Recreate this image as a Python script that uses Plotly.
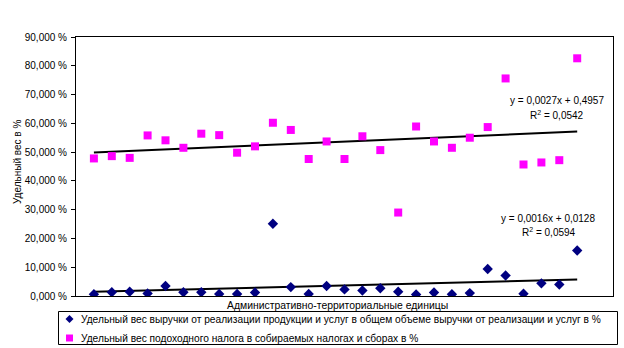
import plotly.graph_objects as go

# --- data ---
units = list(range(1, 29))  # administrative-territorial units 1..28

revenue_share = [0.6, 1.3, 1.5, 0.9, 3.5, 1.3, 1.3, 0.7, 0.7, 1.2,
                 25.1, 3.1, 0.7, 3.5, 2.3, 1.9, 2.7, 1.5, 0.5, 1.2,
                 0.6, 1.0, 9.4, 7.1, 0.8, 4.4, 4.0, 15.8]

income_tax_share = [47.8, 48.6, 48.0, 55.8, 54.1, 51.5, 56.4, 55.9, 49.8, 52.0,
                    60.2, 57.7, 47.6, 53.7, 47.6, 55.5, 50.7, 29.0, 58.9, 53.7,
                    51.5, 55.0, 58.7, 75.6, 45.7, 46.4, 47.2, 82.6]

# trend line coefficients shown on the chart (fractions)
rev_slope, rev_intercept, rev_r2 = 0.0016, 0.0128, 0.0594
tax_slope, tax_intercept, tax_r2 = 0.0027, 0.4957, 0.0542

y_tickvals = [0, 10, 20, 30, 40, 50, 60, 70, 80, 90]
y_ticktext = ["0,000 %", "10,000 %", "20,000 %", "30,000 %", "40,000 %",
              "50,000 %", "60,000 %", "70,000 %", "80,000 %", "90,000 %"]

name_rev = "Удельный вес выручки от реализации продукции и услуг в общем объеме выручки от реализации и услуг в %"
name_tax = "Удельный вес подоходного налога в собираемых налогах и сборах в %"
x_title = "Административно-территориальные единицы"
y_title = "Удельный вес в %"

REV_COLOR = "#000080"
TAX_COLOR = "#FF00FF"

def fmt(v, nd=4):
    return f"{v:.{nd}f}".replace(".", ",")

FONT = "Liberation Sans, Arial, sans-serif"

# plot-area geometry in pixels (used only to place layout decorations)
L, R, T, B = 76, 613, 37, 296
W, H = R - L, B - T
def px(x):
    return (x - L) / W
def py(y):
    return (B - y) / H

fig = go.Figure()

# trend lines
trend_x = [units[0], units[-1]]
fig.add_trace(go.Scatter(
    x=trend_x, y=[(tax_slope * x + tax_intercept) * 100 for x in trend_x],
    mode="lines", line=dict(color="black", width=2), showlegend=False, hoverinfo="skip"))
fig.add_trace(go.Scatter(
    x=trend_x, y=[(rev_slope * x + rev_intercept) * 100 for x in trend_x],
    mode="lines", line=dict(color="black", width=2), showlegend=False, hoverinfo="skip"))

fig.add_trace(go.Scatter(
    x=units, y=revenue_share, mode="markers", name=name_rev, showlegend=False,
    marker=dict(symbol="diamond", size=8, color=REV_COLOR)))
fig.add_trace(go.Scatter(
    x=units, y=income_tax_share, mode="markers", name=name_tax, showlegend=False,
    marker=dict(symbol="square", size=8, color=TAX_COLOR)))

fig.update_layout(
    width=624, height=348,
    margin=dict(l=L, r=624 - R, t=T, b=348 - B, autoexpand=False),
    paper_bgcolor="white", plot_bgcolor="white",
    font=dict(family=FONT, size=10, color="black"),
    showlegend=False,
    xaxis=dict(range=[0, 30], showticklabels=False, ticks="", showgrid=False,
               zeroline=False, showline=True, linecolor="black", linewidth=1, mirror=True),
    yaxis=dict(range=[0, 90], tickvals=y_tickvals, ticktext=y_ticktext,
               ticks="outside", ticklen=4, tickcolor="black", showgrid=False,
               zeroline=False, showline=True, linecolor="black", linewidth=1, mirror=True,
               ticklabelstandoff=2,
               tickfont=dict(family=FONT, size=10, color="black")),
)

# legend (drawn manually to match the reference's compact layout)
fig.add_shape(type="rect", xref="paper", yref="paper",
              x0=px(58.5), x1=px(617.5), y0=py(344.5), y1=py(311.5),
              line=dict(color="black", width=1), fillcolor="rgba(0,0,0,0)")
fig.add_shape(type="path", xref="paper", yref="paper",
              xsizemode="pixel", ysizemode="pixel",
              xanchor=px(69.5), yanchor=py(319),
              path="M -4,0 L 0,4 L 4,0 L 0,-4 Z",
              line=dict(color=REV_COLOR, width=0), fillcolor=REV_COLOR)
fig.add_shape(type="rect", xref="paper", yref="paper",
              xsizemode="pixel", ysizemode="pixel",
              xanchor=px(69.5), yanchor=py(338),
              x0=-3.5, x1=3.5, y0=-3.5, y1=3.5,
              line=dict(color=TAX_COLOR, width=0), fillcolor=TAX_COLOR)
fig.add_annotation(text=name_rev, xref="paper", yref="paper", x=px(79), y=py(319),
                   xanchor="left", yanchor="middle", showarrow=False,
                   font=dict(family=FONT, size=10.2, color="black"))
fig.add_annotation(text=name_tax, xref="paper", yref="paper", x=px(79), y=py(338),
                   xanchor="left", yanchor="middle", showarrow=False,
                   font=dict(family=FONT, size=10.2, color="black"))

# axis titles
fig.add_annotation(text=x_title, xref="paper", yref="paper", x=px(337.5), y=py(305),
                   xanchor="center", yanchor="middle", showarrow=False,
                   font=dict(family=FONT, size=10.4, color="black"))
fig.add_annotation(text=y_title, xref="paper", yref="paper", x=px(17), y=py(162),
                   xanchor="center", yanchor="middle", showarrow=False, textangle=-90,
                   font=dict(family=FONT, size=10, color="black"))

# trend labels
def label(text, xc, ypix):
    fig.add_annotation(text=text, xref="paper", yref="paper", x=px(xc), y=py(ypix),
                       xanchor="center", yanchor="middle", showarrow=False,
                       font=dict(family=FONT, size=10, color="black"))

label(f"y = {fmt(tax_slope)}x + {fmt(tax_intercept)}", 556.5, 101)
label(f"R<sup>2</sup> = {fmt(tax_r2)}", 557, 115)
label(f"y = {fmt(rev_slope)}x + {fmt(rev_intercept)}", 548, 219)
label(f"R<sup>2</sup> = {fmt(rev_r2)}", 549, 232)

fig.write_html("out.html")
